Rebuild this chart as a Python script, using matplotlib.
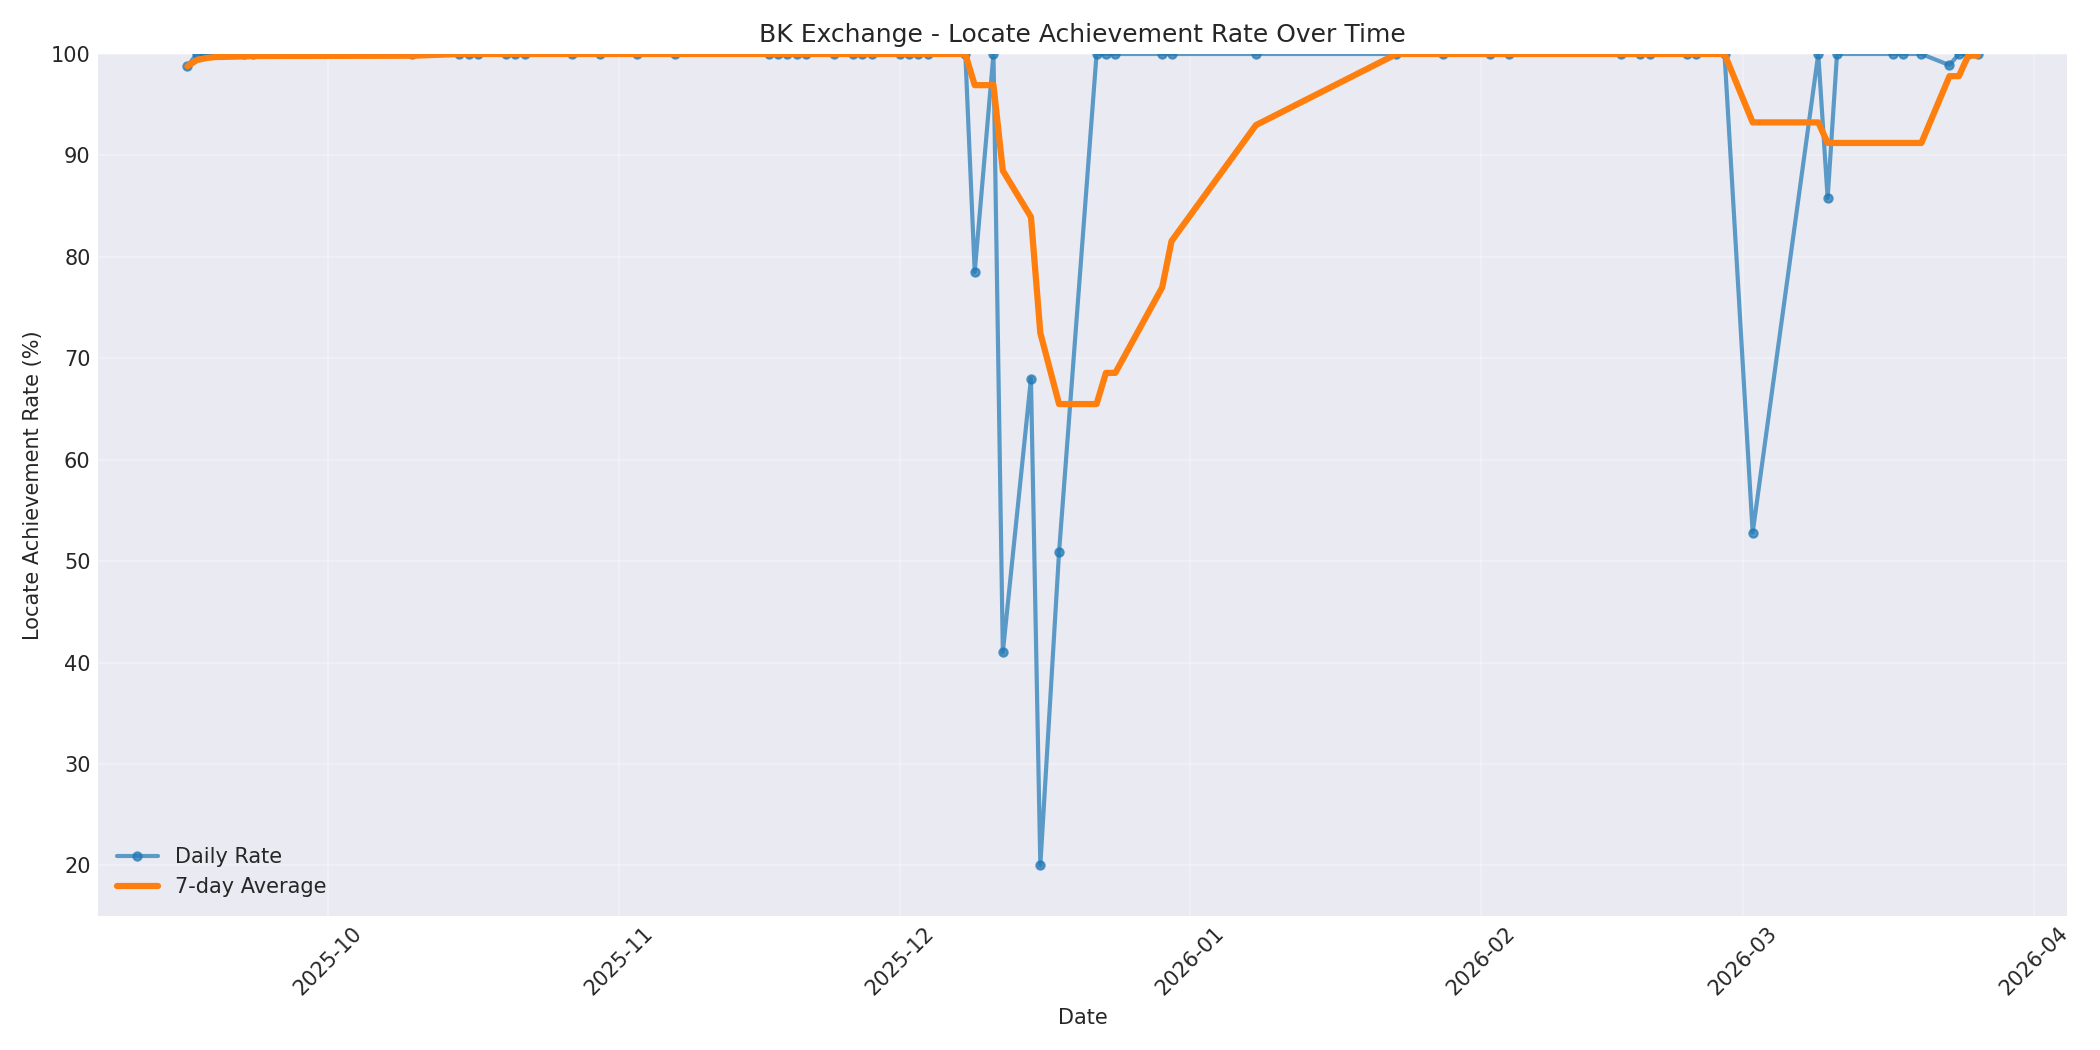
import pandas as pd
import matplotlib
matplotlib.use("Agg")
import matplotlib.pyplot as plt

# daily locate achievement rate (%)
dates = [
    "2025-09-16", "2025-09-17", "2025-09-18", "2025-09-19", "2025-09-22", "2025-09-23",
    "2025-10-10", "2025-10-15", "2025-10-16", "2025-10-17",
    "2025-10-20", "2025-10-21", "2025-10-22", "2025-10-27", "2025-10-30", "2025-11-03",
    "2025-11-07", "2025-11-17", "2025-11-18", "2025-11-19", "2025-11-20", "2025-11-21",
    "2025-11-24", "2025-11-26", "2025-11-27", "2025-11-28", "2025-12-01", "2025-12-02",
    "2025-12-03", "2025-12-04", "2025-12-08", "2025-12-09", "2025-12-11", "2025-12-12",
    "2025-12-15", "2025-12-16", "2025-12-18", "2025-12-22", "2025-12-23", "2025-12-24",
    "2025-12-29", "2025-12-30", "2026-01-08", "2026-01-23", "2026-01-28", "2026-02-02",
    "2026-02-04", "2026-02-16", "2026-02-18", "2026-02-19", "2026-02-23", "2026-02-24",
    "2026-02-27", "2026-03-02", "2026-03-09", "2026-03-10", "2026-03-11", "2026-03-17",
    "2026-03-18", "2026-03-20", "2026-03-23", "2026-03-24", "2026-03-25", "2026-03-26",
]
rates = [
    98.8, 100, 100, 100, 100, 100,
    100, 100, 100, 100,
    100, 100, 100, 100, 100, 100,
    100, 100, 100, 100, 100, 100,
    100, 100, 100, 100, 100, 100,
    100, 100, 100, 78.5, 100, 41.0,
    68.0, 20.0, 50.9, 100, 100, 100,
    100, 100, 100, 100, 100, 100,
    100, 100, 100, 100, 100, 100,
    100, 52.8, 100, 85.8, 100, 100,
    100, 100, 98.9, 100, 100, 100,
]

df = pd.DataFrame({"date": pd.to_datetime(dates), "rate": rates})
df["avg7"] = df["rate"].rolling(7, min_periods=1).mean()

plt.style.use("seaborn-v0_8-darkgrid")
plt.rcParams["font.family"] = ["DejaVu Sans"]
fig, ax = plt.subplots(figsize=(14, 7), dpi=150)

ax.plot(df["date"], df["rate"], marker="o", markersize=4, linewidth=2,
        alpha=0.7, color="#1f77b4", label="Daily Rate")
ax.plot(df["date"], df["avg7"], linewidth=3, color="#ff7f0e", label="7-day Average")

ax.set_title("BK Exchange - Locate Achievement Rate Over Time")
ax.set_xlabel("Date")
ax.set_ylabel("Locate Achievement Rate (%)")
ax.set_ylim(15, 100)
ax.grid(True, alpha=0.3)
ax.legend(loc="lower left")
plt.xticks(rotation=45)

plt.tight_layout()
plt.savefig("out.png")
